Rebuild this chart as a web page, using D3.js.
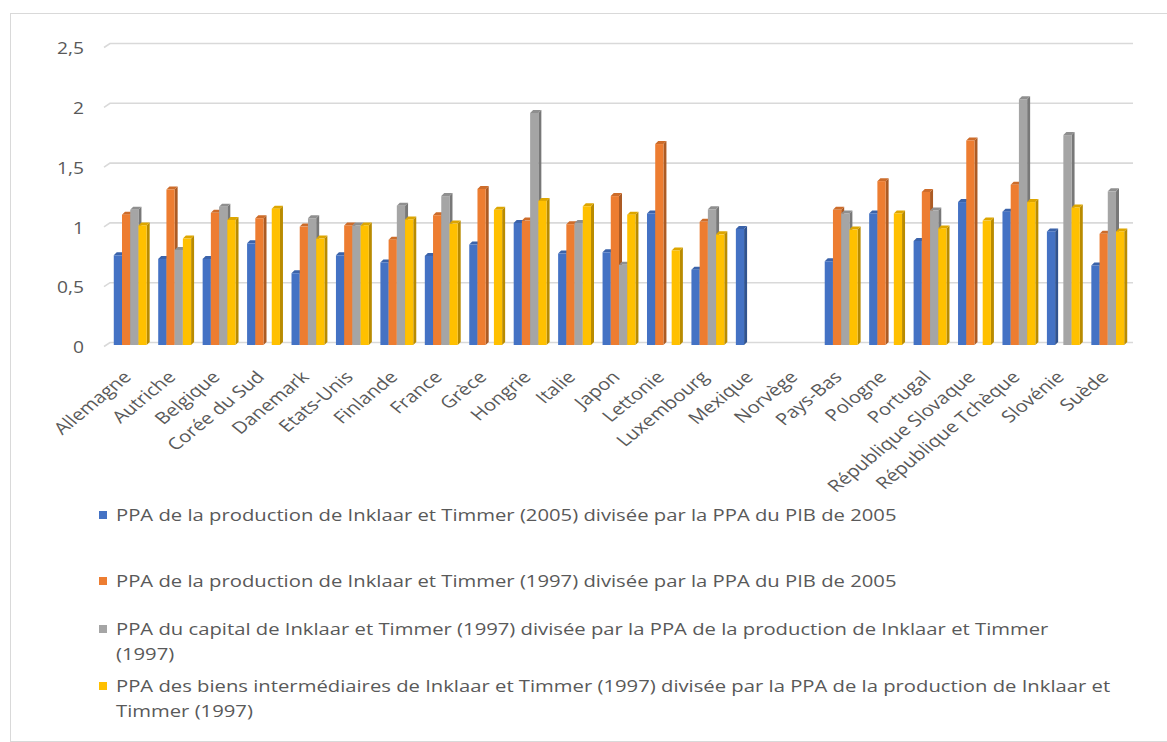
<!DOCTYPE html>
<html>
<head>
<meta charset="utf-8">
<script src="https://cdn.jsdelivr.net/npm/d3@7"></script>
<style>
  body { margin: 0; background: #fff; }
  text { font-family: "Open Sans", "Noto Sans", sans-serif; fill: #595959; }
</style>
</head>
<body>
<script>
// categories and series
const countries = ["Allemagne", "Autriche", "Belgique", "Corée du Sud", "Danemark", "Etats-Unis",
  "Finlande", "France", "Grèce", "Hongrie", "Italie", "Japon", "Lettonie", "Luxembourg",
  "Mexique", "Norvège", "Pays-Bas", "Pologne", "Portugal", "République Slovaque",
  "République Tchèque", "Slovénie", "Suède"];

const prod2005 = [0.75, 0.72, 0.72, 0.85, 0.60, 0.75, 0.69, 0.745, 0.84, 1.02, 0.765, 0.775,
  1.10, 0.63, 0.97, null, 0.70, 1.10, 0.87, 1.195, 1.115, 0.95, 0.665];
const prod1997 = [1.09, 1.30, 1.105, 1.06, 0.99, 1.0, 0.88, 1.085, 1.305, 1.04, 1.01, 1.245,
  1.68, 1.03, null, null, 1.13, 1.37, 1.28, 1.71, 1.34, null, 0.93];
const capital1997 = [1.13, 0.795, 1.155, null, 1.06, 1.0, 1.165, 1.245, null, 1.94, 1.02, 0.67,
  null, 1.135, null, null, 1.10, null, 1.125, null, 2.055, 1.755, 1.285];
const interm1997 = [1.0, 0.89, 1.045, 1.14, 0.89, 1.0, 1.05, 1.015, 1.13, 1.205, 1.16, 1.09,
  0.79, 0.925, null, null, 0.965, 1.10, 0.975, 1.04, 1.195, 1.15, 0.95];

const yTicks = [0, 0.5, 1, 1.5, 2, 2.5];

const seriesNames = [
  ["PPA de la production de Inklaar et Timmer (2005) divisée par la PPA du PIB de 2005"],
  ["PPA de la production de Inklaar et Timmer (1997) divisée par la PPA du PIB de 2005"],
  ["PPA du capital de Inklaar et Timmer (1997) divisée par la PPA de la production de Inklaar et Timmer",
   "(1997)"],
  ["PPA des biens intermédiaires de Inklaar et Timmer (1997) divisée par la PPA de la production de Inklaar et",
   "Timmer (1997)"]
];
const colors = ["#4472C4", "#ED7D31", "#A5A5A5", "#FFC000"];
const series = [prod2005, prod1997, capital1997, interm1997];

const W = 1167, H = 742;
const depth = 3;
const stretch = 1.2; // the original text is a bit wide

const svg = d3.select("body").append("svg")
  .attr("width", W)
  .attr("height", H);

// frame
svg.append("rect")
  .attr("x", 10.5).attr("y", 13.5)
  .attr("width", W + 10).attr("height", H - 14)
  .attr("fill", "none")
  .attr("stroke", "#d9d9d9");

const x0 = d3.scaleBand()
  .domain(countries)
  .range([108, 1130])
  .paddingInner(0.26)
  .paddingOuter(0.13);

const x1 = d3.scaleBand()
  .domain(d3.range(series.length))
  .range([0, x0.bandwidth()]);

const y = d3.scaleLinear()
  .domain([0, 2.5])
  .range([345, 46]);

// back wall gridlines (shifted up by the depth)
const grid = svg.append("g");
yTicks.forEach(t => {
  const gy = y(t) - depth + 0.5;
  grid.append("path")
    .attr("d", `M104,${gy + 4}L110,${gy}L1133,${gy}`)
    .attr("fill", "none")
    .attr("stroke", "#d9d9d9")
    .attr("stroke-width", 1.6);
  svg.append("text")
    .attr("transform", `translate(84,${y(t) + 4}) scale(${stretch},1)`)
    .attr("text-anchor", "end")
    .attr("dominant-baseline", "middle")
    .attr("font-size", 16)
    .text(String(t).replace(".", ","));
});

// bars with a small 3D side and top
const bars = svg.append("g");
countries.forEach((c, i) => {
  series.forEach((s, k) => {
    const v = s[i];
    if (v == null) return;
    const bx = x0(c) + x1(k);
    const bw = x1.bandwidth();
    const top = y(v), base = y(0);
    const col = d3.color(colors[k]);
    bars.append("path")
      .attr("d", `M${bx + bw},${top}L${bx + bw + depth},${top - depth}L${bx + bw + depth},${base - depth}L${bx + bw},${base}Z`)
      .attr("fill", col.darker(0.9));
    bars.append("path")
      .attr("d", `M${bx},${top}L${bx + depth},${top - depth}L${bx + bw + depth},${top - depth}L${bx + bw},${top}Z`)
      .attr("fill", col.darker(0.4));
    bars.append("rect")
      .attr("x", bx)
      .attr("y", top)
      .attr("width", bw)
      .attr("height", base - top)
      .attr("fill", colors[k]);
  });
});

// category labels
countries.forEach(c => {
  const cx = x0(c) + x0.bandwidth() / 2;
  svg.append("text")
    .attr("transform", `translate(${cx - 3},${374}) scale(1.22,1) rotate(-45)`)
    .attr("text-anchor", "end")
    .attr("dy", "0.35em")
    .attr("font-size", 16.6)
    .text(c);
});

// legend
const legendY = [516, 582, 630, 687];
const legend = svg.append("g");
seriesNames.forEach((lines, k) => {
  const ly = legendY[k];
  legend.append("rect")
    .attr("x", 99).attr("y", ly - 5)
    .attr("width", 8).attr("height", 8)
    .attr("fill", colors[k]);
  lines.forEach((ln, j) => {
    legend.append("text")
      .attr("class", "leg")
      .attr("x", 0)
      .attr("y", ly + j * 25)
      .attr("dominant-baseline", "middle")
      .attr("font-size", 17)
      .text(ln);
  });
});
// fit first legend line to its width in the original (116 → 897)
const w0 = legend.select("text.leg").node().getComputedTextLength();
const sx = (897 - 116) / w0;
legend.selectAll("text.leg").attr("transform", `translate(116,0) scale(${sx},1)`);
</script>
</body>
</html>
